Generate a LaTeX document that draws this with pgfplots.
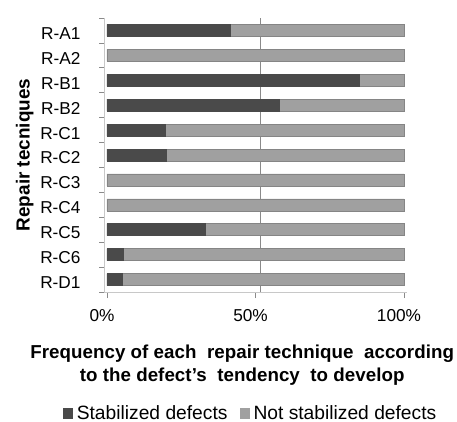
\documentclass[border=0pt]{standalone}
\usepackage{pgfplots}
\pgfplotsset{compat=1.18}
\usepackage{fontspec}
\setmainfont{Liberation Sans}
\definecolor{darkbar}{HTML}{4A4A4A}
\definecolor{lightbar}{HTML}{A0A0A0}
\definecolor{edgegray}{HTML}{858585}
\definecolor{axisgray}{HTML}{C8C8C8}
\definecolor{gridgray}{HTML}{8A8A8A}
\pgfplotstableread{
y  stab  notstab
10 41.5  58.5
9  0     100
8  85    15
7  58    42
6  19.5  80.5
5  20    80
4  0     100
3  0     100
2  33    67
1  5.5   94.5
0  5     95
}\datatable
\begin{document}
\begin{tikzpicture}
\path[use as bounding box] (0bp,0bp) rectangle (457bp,-422bp);
\begin{axis}[
  at={(104bp,-292bp)}, anchor=south west,
  scale only axis, width=303bp, height=274bp,
  xbar stacked, bar width=12bp,
  xmin=-1, xmax=101, ymin=-0.5, ymax=10.5,
  axis x line*=bottom, axis y line*=left,
  axis line style={draw=axisgray, line width=1pt},
  xtick={0,50,100}, xticklabels={0\%,50\%,100\%},
  ytick={0,...,10},
  yticklabels={R-D1,R-C6,R-C5,R-C4,R-C3,R-C2,R-C1,R-B2,R-B1,R-A2,R-A1},
  minor ytick={-0.5,0.5,...,10.5},
  tick align=outside,
  major tick length=6bp, minor tick length=5bp,
  major y tick style={draw=none},
  minor y tick style={draw=gridgray, line width=0.8pt},
  major x tick style={draw=gridgray, line width=0.8pt},
  extra x ticks={51.7}, extra x tick labels={},
  extra x tick style={grid=major, major tick length=0pt,
    major grid style={draw=gridgray, line width=1.6pt}},
  ticklabel style={font=\fontsize{17.3}{20}\selectfont, text=black},
  yticklabel style={xshift=-14bp, yshift=-3bp},
  xticklabel style={xshift=-5bp, yshift=-8bp},
  xlabel={Frequency of each\ \ repair technique\ \ according\\to the defect’s\ \ tendency\ \ to develop},
  xlabel style={font=\bfseries\fontsize{18.8}{23}\selectfont\addfontfeatures{LetterSpace=0.3}, align=center, at={(axis description cs:0.456,0)}, anchor=center, yshift=-73bp},
  ylabel={Repair tecniques},
  ylabel style={font=\bfseries\fontsize{19}{22}\selectfont, at={(axis description cs:-0.262,0.5)}, anchor=center},
  legend style={at={(axis description cs:0.487,0)}, anchor=center, yshift=-121bp,
    draw=none, fill=none, font=\fontsize{19.3}{22}\selectfont,
    legend columns=2, /tikz/every even column/.append style={column sep=9bp},
    inner sep=0pt, nodes={inner xsep=3.5bp}},
  legend image code/.code={\fill[#1, draw=none] (0bp,-5.5bp) rectangle (10bp,5.5bp);},
  clip=false,
]
\addplot+[fill=darkbar, draw=darkbar, line width=0.6pt] table[x=stab, y=y] {\datatable};
\addplot+[fill=lightbar, draw=edgegray, line width=0.6pt] table[x=notstab, y=y] {\datatable};
\legend{Stabilized defects, Not stabilized defects}
\end{axis}
\end{tikzpicture}
\end{document}
